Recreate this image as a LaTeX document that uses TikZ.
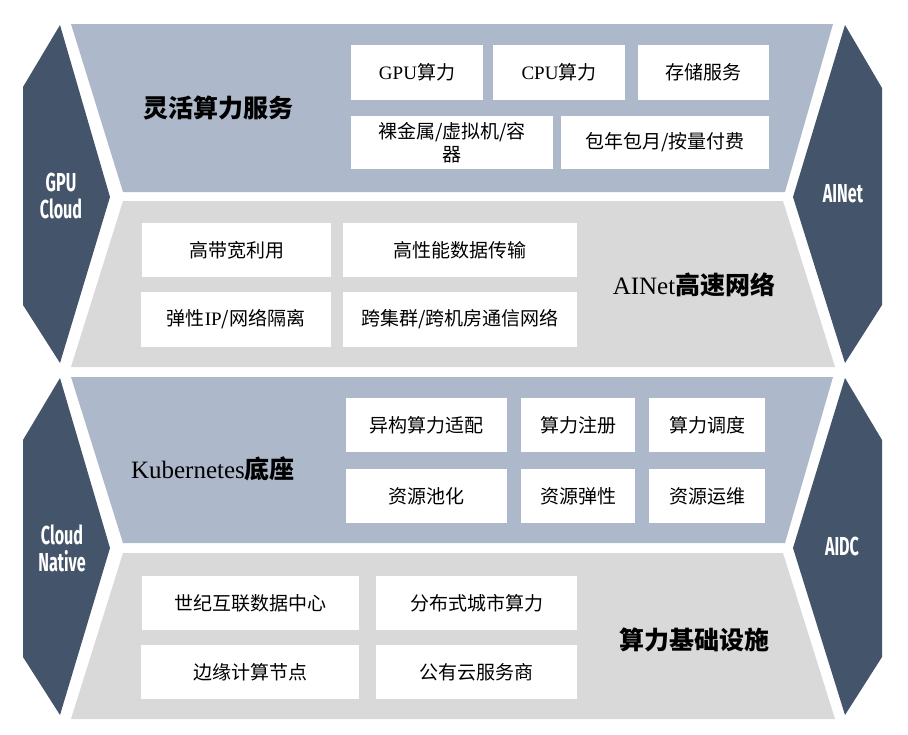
\documentclass[tikz,border=0pt]{standalone}
\usepackage{fontspec}
\setmainfont{Liberation Serif}
\newfontfamily\cjk{Noto Sans CJK SC}
\newfontfamily\sidefont{Fira Sans}
\definecolor{darkslate}{HTML}{44546A}
\definecolor{bandblue}{HTML}{ADB9CA}
\definecolor{bandgrey}{HTML}{D9D9D9}
\newcommand\zh[1]{{\cjk #1}}
\newcommand\narrow[1]{\scalebox{0.62}[1]{#1}}
\begin{document}
\begin{tikzpicture}[x=1pt,y=-1pt,
  cell/.style={fill=white, inner sep=0pt, align=center, font=\fontsize{19}{23}\selectfont},
  bandtitle/.style={inner sep=0pt, font=\fontsize{25}{28}\selectfont},
  sidelabel/.style={inner sep=0pt, text=white, align=center, font=\sidefont\bfseries\fontsize{26}{27}\selectfont}]
\useasboundingbox (0,0) rectangle (908,734);
\fill[white] (0,0) rectangle (908,734);
% bands
\fill[bandblue] (71,24) -- (833,24) -- (785,192) -- (123,192) -- cycle;
\fill[bandgrey] (123,201) -- (783,201) -- (835,367) -- (71,367) -- cycle;
\fill[bandblue] (71,377) -- (833,377) -- (785,543) -- (123,543) -- cycle;
\fill[bandgrey] (123,553) -- (783,553) -- (835,719) -- (71,719) -- cycle;
% side chevrons
\fill[darkslate] (60,25) -- (110,197) -- (60,363) -- (23,305) -- (23,87) -- cycle;
\fill[darkslate] (845,25) -- (882,88) -- (882,305) -- (845,363) -- (793,197) -- cycle;
\fill[darkslate] (60,378) -- (110,548) -- (60,715) -- (23,657) -- (23,440) -- cycle;
\fill[darkslate] (845,378) -- (882,440) -- (882,657) -- (845,715) -- (793,548) -- cycle;
% side labels
\node[sidelabel] (gpucloud) at (61,196) {\narrow{GPU}\\\narrow{Cloud}};
\node[sidelabel] (ainet) at (843,194) {\narrow{AINet}};
\node[sidelabel] (cloudnative) at (62,548) {\narrow{Cloud}\\\narrow{Native}};
\node[sidelabel] (aidc) at (842,546) {\narrow{AIDC}};
% band titles
\node[bandtitle] (t1) at (218,108) {\zh{\bfseries 灵活算力服务}};
\node[bandtitle] (t2) at (694,285) {AINet\zh{\bfseries 高速网络}};
\node[bandtitle] (t3) at (213,469) {Kubernetes\zh{\bfseries 底座}};
\node[bandtitle] (t4) at (694,640) {\zh{\bfseries 算力基础设施}};
% band 1 cells
\node[cell, minimum width=132, minimum height=55] (gpu) at (417,72.5) {GPU\zh{算力}};
\node[cell, minimum width=132, minimum height=55] (cpu) at (559,72.5) {CPU\zh{算力}};
\node[cell, minimum width=131, minimum height=55] (store) at (703.5,72.5) {\zh{存储服务}};
\node[cell, minimum width=202, minimum height=53] (bare) at (452,142.5) {\zh{裸金属/虚拟机/容}\\\zh{器}};
\node[cell, minimum width=208, minimum height=53] (bill) at (665,142.5) {\zh{包年包月/按量付费}};
% band 2 cells
\node[cell, minimum width=189, minimum height=54] (bw) at (236.5,250) {\zh{高带宽利用}};
\node[cell, minimum width=234, minimum height=54] (hpdt) at (460,250) {\zh{高性能数据传输}};
\node[cell, minimum width=190, minimum height=55] (eip) at (236,319.5) {\zh{弹性}IP\zh{/网络隔离}};
\node[cell, minimum width=234, minimum height=55] (cross) at (460,319.5) {\zh{跨集群/跨机房通信网络}};
% band 3 cells
\node[cell, minimum width=161, minimum height=54] (hetero) at (426.5,425) {\zh{异构算力适配}};
\node[cell, minimum width=114, minimum height=54] (reg) at (578,425) {\zh{算力注册}};
\node[cell, minimum width=116, minimum height=54] (sched) at (707,425) {\zh{算力调度}};
\node[cell, minimum width=161, minimum height=54] (pool) at (426.5,496) {\zh{资源池化}};
\node[cell, minimum width=114, minimum height=54] (elastic) at (578,496) {\zh{资源弹性}};
\node[cell, minimum width=116, minimum height=54] (ops) at (707,496) {\zh{资源运维}};
% band 4 cells
\node[cell, minimum width=217, minimum height=54] (dc) at (250.5,603) {\zh{世纪互联数据中心}};
\node[cell, minimum width=201, minimum height=54] (city) at (476.5,603) {\zh{分布式城市算力}};
\node[cell, minimum width=218, minimum height=54] (edge) at (250,672) {\zh{边缘计算节点}};
\node[cell, minimum width=201, minimum height=54] (pub) at (476.5,672) {\zh{公有云服务商}};
\end{tikzpicture}
\end{document}
